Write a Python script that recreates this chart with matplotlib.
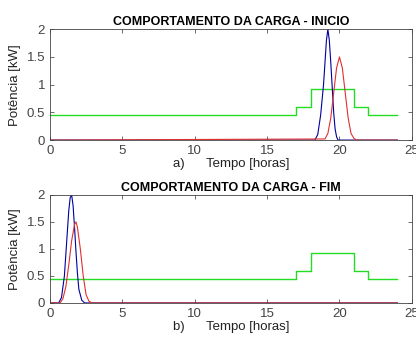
import matplotlib
matplotlib.use("Agg")
import matplotlib.pyplot as plt

plt.rcParams['font.family'] = ['Liberation Sans', 'DejaVu Sans']

# green step load (same in both panels)
t_step = [0, 17, 17, 18, 18, 21, 21, 22, 22, 24]
p_step = [0.45, 0.45, 0.6, 0.6, 0.92, 0.92, 0.6, 0.6, 0.45, 0.45]

# top panel (inicio)
t_blue_a = [0, 18.3, 18.5, 18.7, 18.9, 19.0, 19.1, 19.2, 19.3, 19.4, 19.5, 19.6, 19.7, 19.8, 19.9, 24]
p_blue_a = [0, 0, 0.1, 0.45, 1.0, 1.4, 1.8, 2.0, 1.8, 1.4, 0.95, 0.5, 0.2, 0.06, 0, 0]
t_red_a = [0, 19.0, 19.2, 19.4, 19.6, 19.8, 20.0, 20.2, 20.4, 20.6, 20.8, 21.0, 21.2, 24]
p_red_a = [0, 0.02, 0.12, 0.4, 0.85, 1.3, 1.5, 1.3, 0.85, 0.4, 0.12, 0.03, 0, 0]

# bottom panel (fim)
t_blue_b = [0, 0.6, 0.8, 1.0, 1.1, 1.2, 1.3, 1.4, 1.5, 1.6, 1.7, 1.8, 1.9, 2.0, 2.2, 2.4, 24]
p_blue_b = [0, 0, 0.1, 0.5, 0.9, 1.3, 1.7, 1.95, 2.0, 1.8, 1.4, 0.95, 0.55, 0.25, 0.05, 0, 0]
t_red_b = [0, 0.7, 0.9, 1.1, 1.3, 1.5, 1.7, 1.8, 1.9, 2.1, 2.3, 2.5, 2.7, 2.9, 24]
p_red_b = [0, 0, 0.08, 0.3, 0.7, 1.15, 1.45, 1.5, 1.4, 1.0, 0.5, 0.15, 0.03, 0, 0]

fig = plt.figure(figsize=(4.16, 3.4), dpi=100)
ax1 = fig.add_axes([0.12, 0.588, 0.87, 0.326])
ax2 = fig.add_axes([0.12, 0.109, 0.87, 0.318])

panels = [
    (ax1, t_blue_a, p_blue_a, t_red_a, p_red_a, 'COMPORTAMENTO DA CARGA - INICIO', 'a)      Tempo [horas]'),
    (ax2, t_blue_b, p_blue_b, t_red_b, p_red_b, 'COMPORTAMENTO DA CARGA - FIM', 'b)      Tempo [horas]'),
]

for ax, tb, pb, tr, pr, title, xl in panels:
    ax.plot(t_step, p_step, color='#22dd22', linewidth=1)
    ax.plot(tb, pb, color='#0000a0', linewidth=0.8)
    ax.plot(tr, pr, color='#e03030', linewidth=0.8)
    ax.set_xlim(0, 25)
    ax.set_ylim(0, 2)
    ax.set_xticks([0, 5, 10, 15, 20, 25])
    ax.set_yticks([0, 0.5, 1, 1.5, 2])
    ax.set_yticklabels(['0', '0.5', '1', '1.5', '2'])
    ax.tick_params(direction='in', top=True, right=True, labelsize=9.5,
                   colors='#555555', length=3, width=0.6, labelcolor='#444444')
    for s in ax.spines.values():
        s.set_linewidth(0.6)
        s.set_color('#444444')
    ax.set_title(title, fontsize=9, fontweight='bold', pad=3)
    ax.set_xlabel(xl, fontsize=9.5, labelpad=1, color='#222222')
    ax.set_ylabel('Potência [kW]', fontsize=9.5, labelpad=4, color='#222222')

fig.savefig('out.png', dpi=100)
